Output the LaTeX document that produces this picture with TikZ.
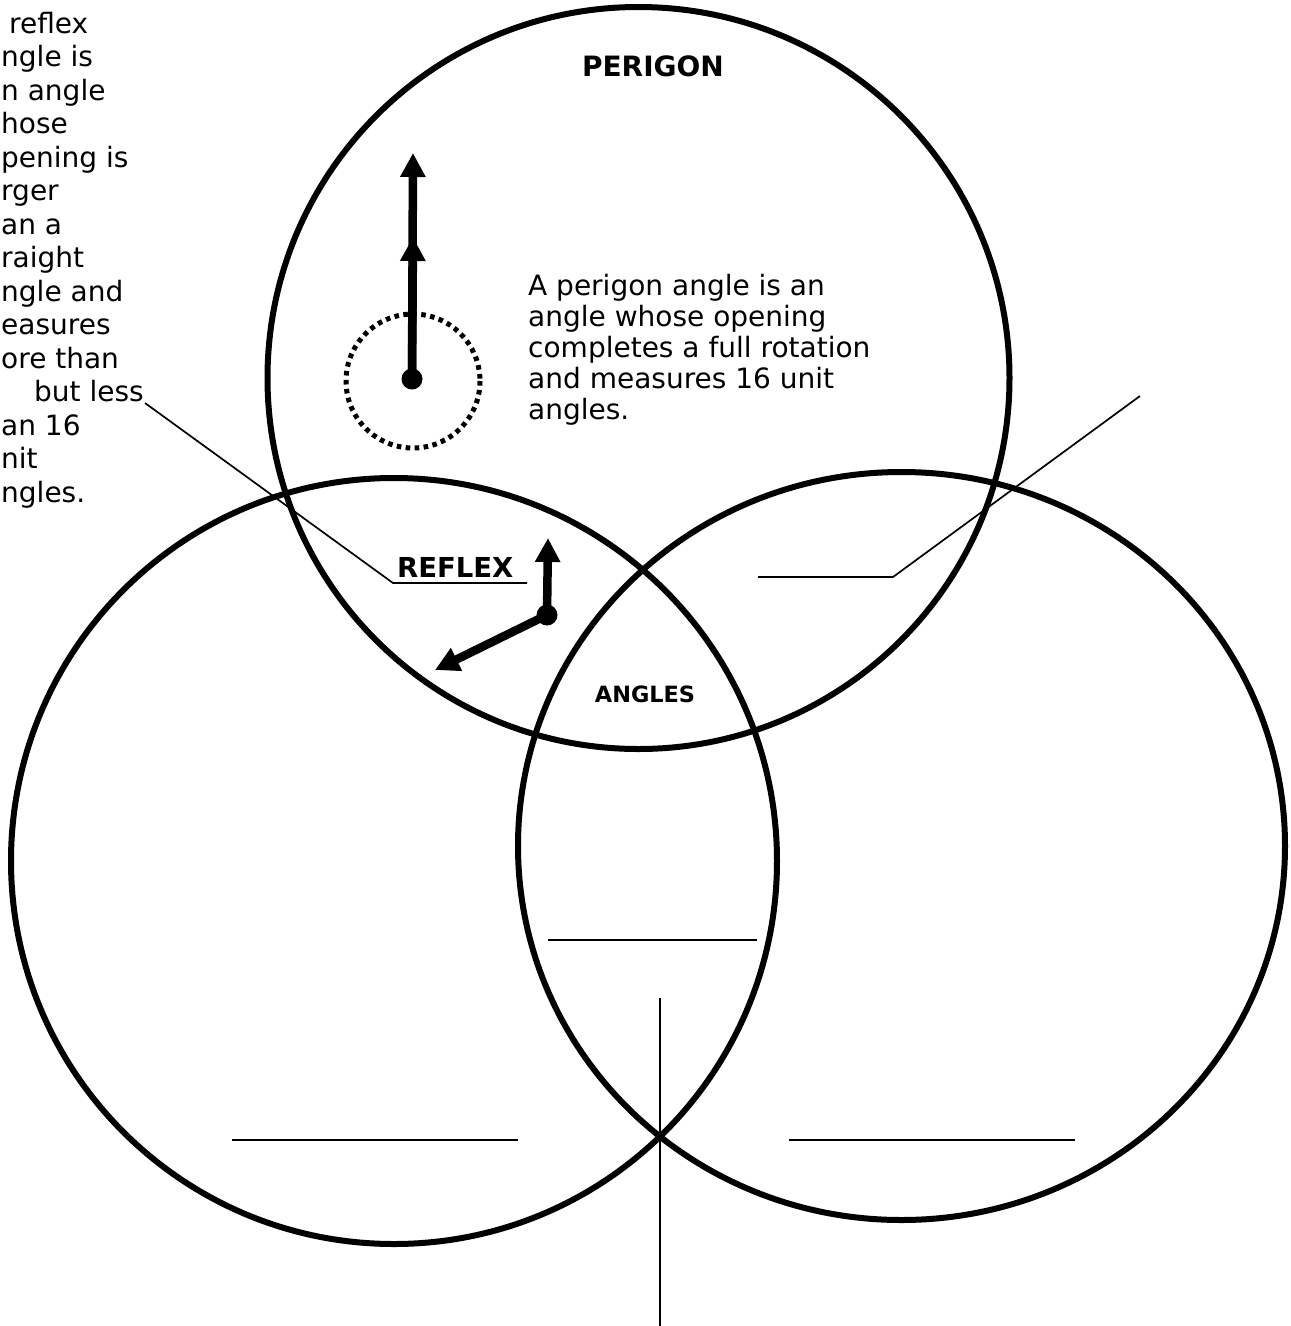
\documentclass[tikz,border=0pt]{standalone}
\usepackage{fontspec}
\setmainfont{DejaVu Sans}
\usetikzlibrary{arrows.meta}
\begin{document}
\begin{tikzpicture}[x=1pt,y=-1pt,
  venn/.style={line width=6pt},
  pointer/.style={line width=1.7pt},
  hand/.style={line width=8.5pt,-{Triangle[length=24pt,width=24pt]}},
  hub/.style={circle,fill,minimum size=21pt,inner sep=0pt},
  dotring/.style={line width=5pt,dash pattern=on 4.6pt off 4.4pt},
  bodytext/.style={anchor=base west,inner sep=0pt,font=\fontsize{28}{31}\selectfont},
  titletext/.style={inner sep=0pt,anchor=base,font=\bfseries\fontsize{28}{32}\selectfont}]
\useasboundingbox (0,0) rectangle (1291,1326);

% Venn circles
\draw[venn] (638.5,378) circle [radius=371];
\draw[venn] (394,861) circle [radius=383];
\draw[venn] (901.5,846) ellipse [x radius=383.5, y radius=374];

% labels
\node[titletext] (perigonlabel) at (653,76.5) {PERIGON};
\node[titletext,anchor=base west,font=\bfseries\fontsize{27.5}{30}\selectfont] (reflexlabel) at (397,577) {REFLEX};
\node[titletext,font=\bfseries\fontsize{22.4}{26}\selectfont] (angleslabel) at (645,702) {ANGLES};

% perigon description
\foreach \t [count=\i] in {A perigon angle is an,angle whose opening,completes a full rotation,and measures 16 unit,angles.}
  \node[bodytext] (pt\i) at (528,{295+31*(\i-1)}) {\t};

% reflex description (its left part lies beyond the picture's edge)
\node[bodytext] (rt1) at (9,33) {reflex};
\foreach \t [count=\i from 2] in {ngle is,n angle,hose,pening is,rger,an a,raight,ngle and,easures,ore than}
  \node[bodytext] (rt\i) at (1,{33+33.5*(\i-1)}) {\t};
\node[bodytext] (rt12) at (34,{33+33.5*11}) {but less};
\foreach \t [count=\i from 13] in {an 16,nit,ngles.}
  \node[bodytext] (rt\i) at (1,{33+33.5*(\i-1)}) {\t};

% perigon clock
\draw[dotring] (413,381) circle [radius=67];
\node[hub] (phub) at (412,379) {};
\coordinate (ptip) at (413,153);
\coordinate (pmid) at (413,237);
\draw[hand] (phub.center) -- (ptip);
\draw[hand] (phub.center) -- (pmid);

% reflex clock
\node[hub] (rhub) at (547,615) {};
\coordinate (rtipA) at (548,538);
\coordinate (rtipB) at (435,670);
\draw[hand] (rhub.center) -- (rtipA);
\draw[hand] (rhub.center) -- (rtipB);

% pointer lines and blanks
\coordinate (lpA) at (145,403);
\coordinate (lpB) at (393,583);
\coordinate (lpC) at (527,583);
\draw[pointer] (lpA) -- (lpB) -- (lpC);

\coordinate (rpA) at (1140,396);
\coordinate (rpB) at (893,577);
\coordinate (rpC) at (758,577);
\draw[pointer] (rpA) -- (rpB) -- (rpC);

\coordinate (mbA) at (548,940);
\coordinate (mbB) at (757,940);
\draw[pointer] (mbA) -- (mbB);

\coordinate (vA) at (660,998);
\coordinate (vB) at (660,1326);
\draw[pointer] (vA) -- (vB);

\coordinate (blA) at (232,1140);
\coordinate (blB) at (518,1140);
\draw[pointer] (blA) -- (blB);

\coordinate (brA) at (789,1140);
\coordinate (brB) at (1075,1140);
\draw[pointer] (brA) -- (brB);
\end{tikzpicture}
\end{document}
